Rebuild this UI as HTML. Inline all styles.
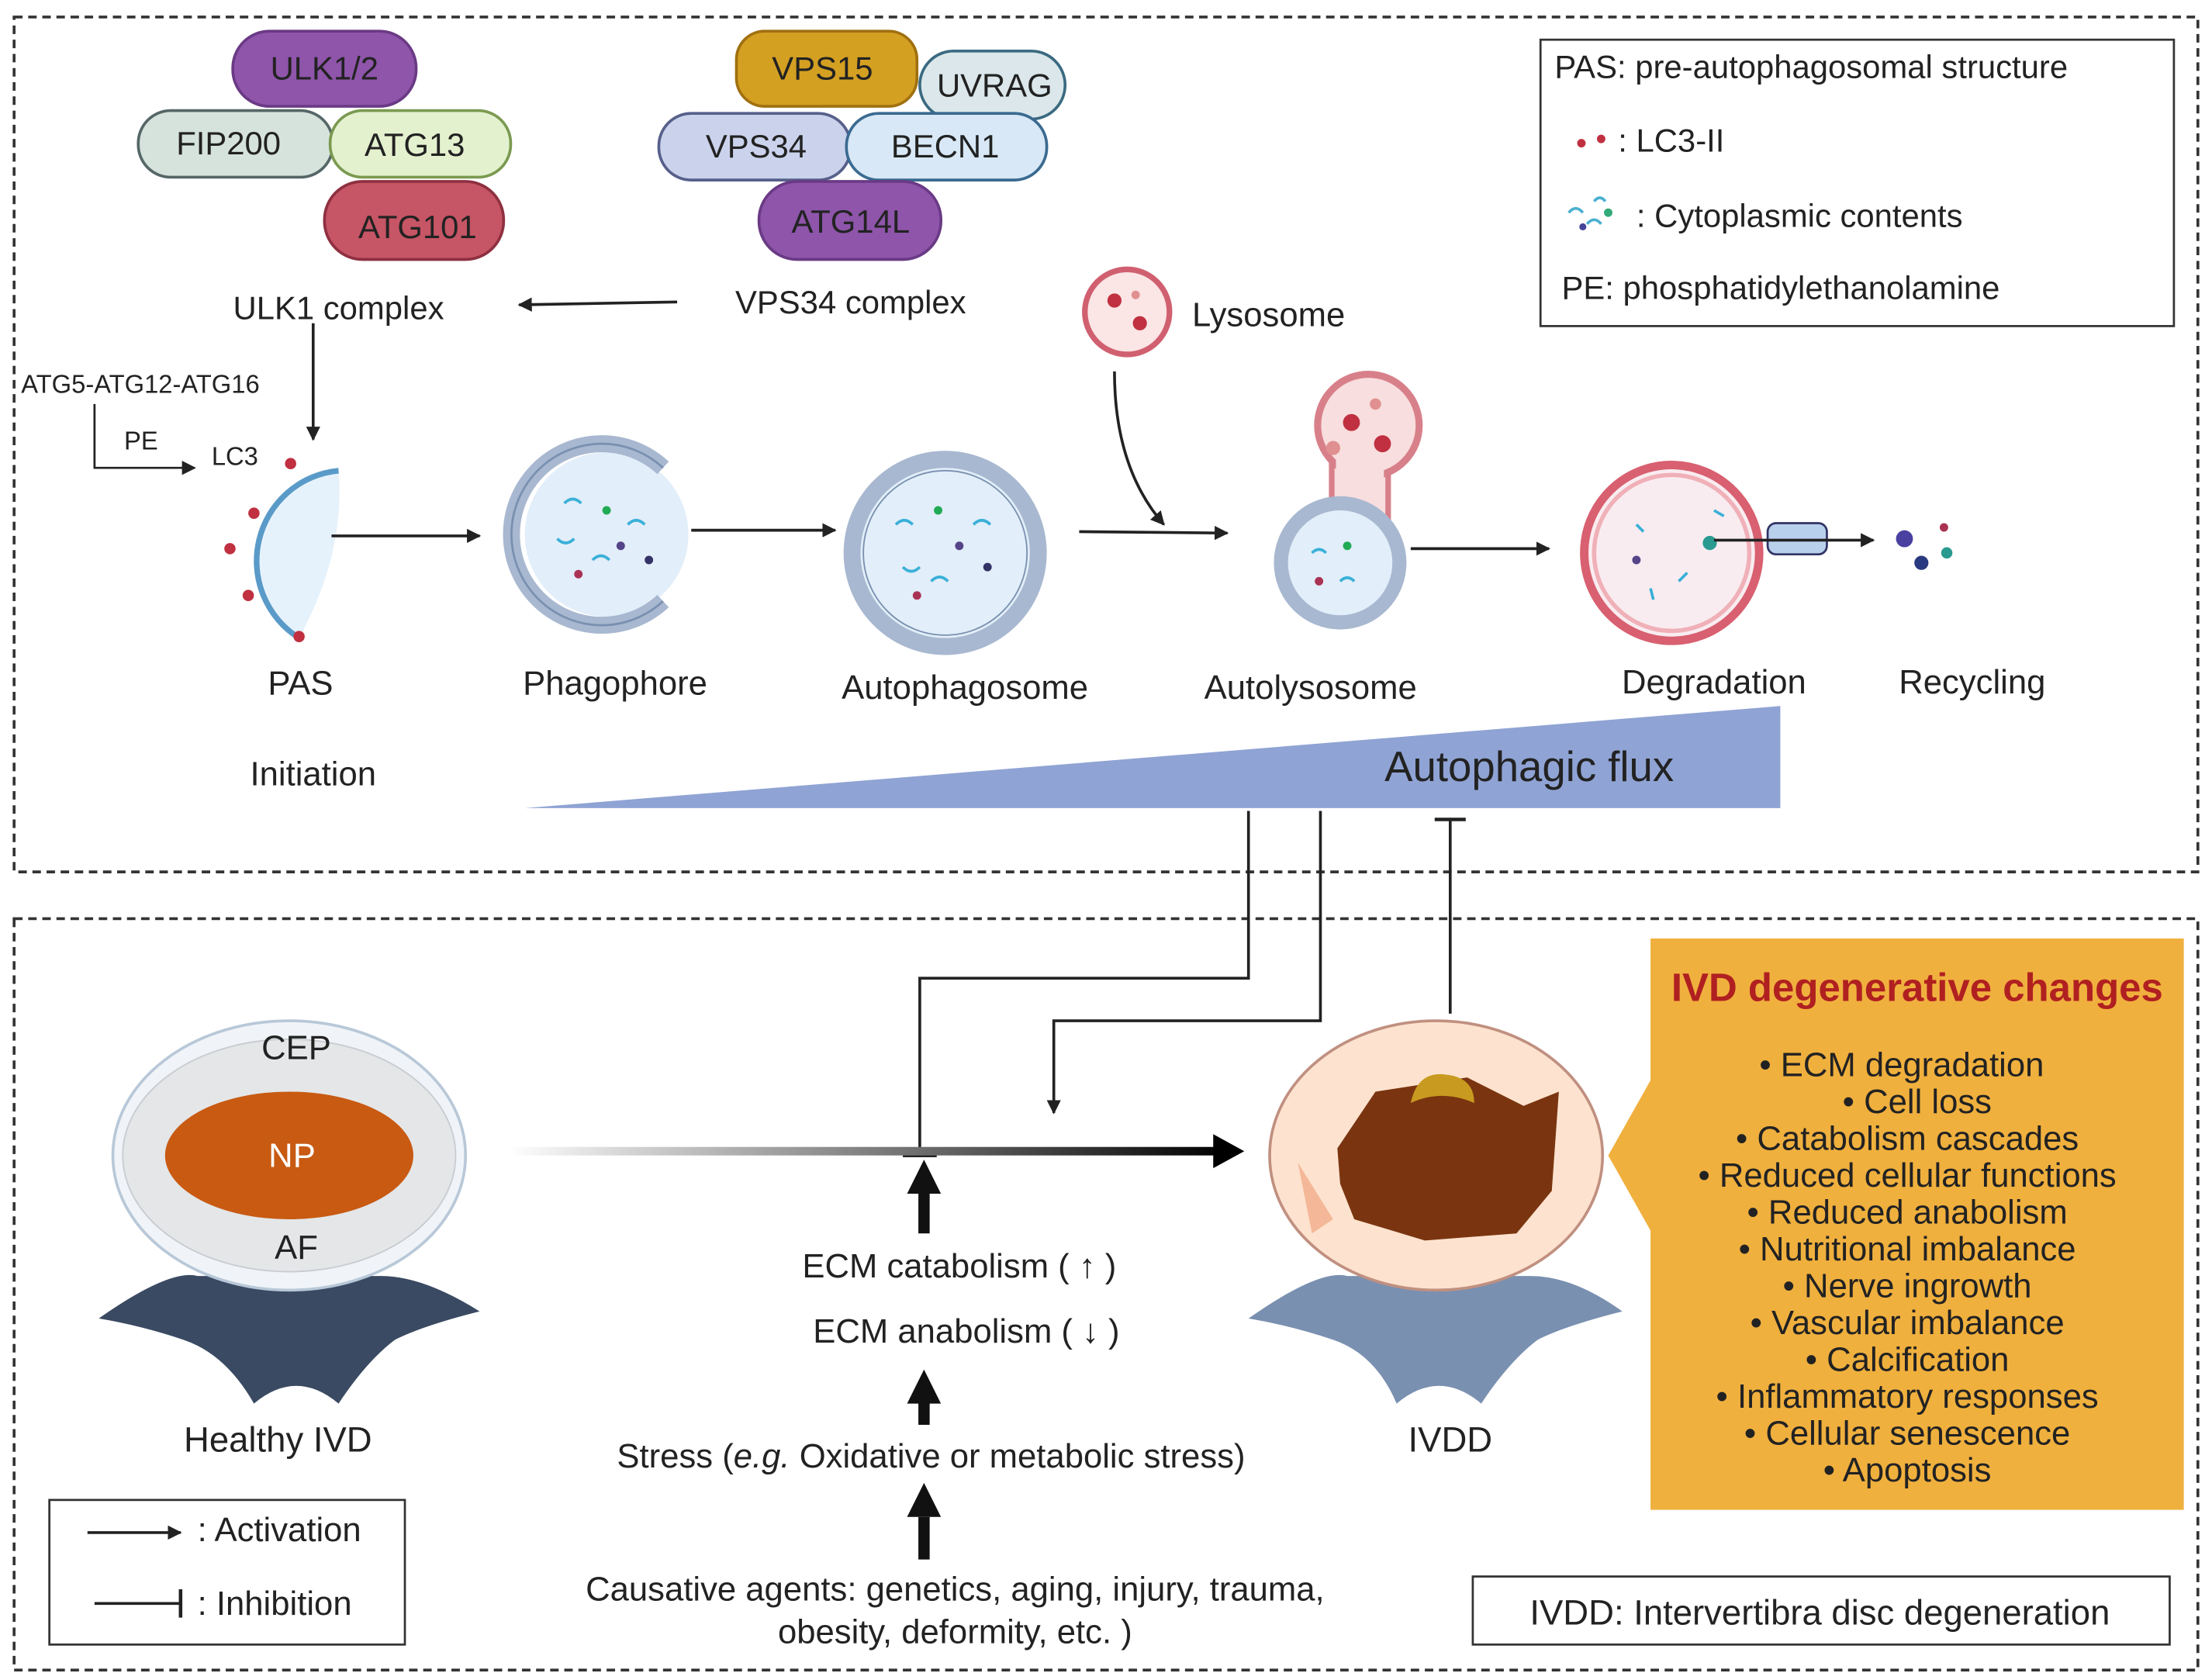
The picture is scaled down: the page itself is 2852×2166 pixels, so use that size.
<!DOCTYPE html>
<html><head><meta charset="utf-8"><style>
html,body{margin:0;padding:0;background:#fff}
svg{display:block}
text{font-family:"Liberation Sans",sans-serif;fill:#222}
</style></head><body>
<svg width="2852" height="2166" viewBox="0 0 1568 1185" preserveAspectRatio="none" xmlns="http://www.w3.org/2000/svg">
<defs>
<marker id="ar" markerWidth="10" markerHeight="10" refX="9" refY="5" orient="auto" markerUnits="userSpaceOnUse"><path d="M0,0 L10,5 L0,10 z" fill="#222"/></marker>
<linearGradient id="g1" gradientUnits="userSpaceOnUse" x1="360" y1="0" x2="870" y2="0"><stop offset="0" stop-color="#fff"/><stop offset="1" stop-color="#000"/></linearGradient>
</defs>
<rect x="10" y="12" width="1548" height="603" fill="none" stroke="#333" stroke-width="2" stroke-dasharray="6,4"/>
<rect x="10" y="648" width="1548" height="530" fill="none" stroke="#333" stroke-width="2" stroke-dasharray="6,4"/>
<!-- legend -->
<rect x="1092" y="28" width="449" height="202" fill="#fff" stroke="#333" stroke-width="1.5"/>
<text x="1102" y="55" font-size="23">PAS: pre-autophagosomal structure</text>
<circle cx="1121" cy="101" r="3" fill="#c03040"/><circle cx="1135" cy="98" r="3" fill="#c03040"/>
<text x="1147" y="107" font-size="23">: LC3-II</text>
<g stroke="#4ab0d0" stroke-width="2" fill="none"><path d="M1112,150 q5,-6 10,0"/><path d="M1125,158 q5,-6 10,0"/><path d="M1130,142 q4,-5 8,0"/></g>
<circle cx="1140" cy="150" r="3" fill="#3a7"/><circle cx="1122" cy="160" r="2.5" fill="#449"/>
<text x="1160" y="160" font-size="23">: Cytoplasmic contents</text>
<text x="1107" y="211" font-size="23">PE: phosphatidylethanolamine</text>
<!-- complexes -->
<g font-size="23" text-anchor="middle" stroke-width="2">
<rect x="165" y="22" width="130" height="53" rx="26" fill="#8e55aa" stroke="#6a3a85"/>
<text x="230" y="56" fill="#fff">ULK1/2</text>
<rect x="98" y="78" width="138" height="47" rx="23" fill="#d6e3dc" stroke="#566"/>
<text x="162" y="109">FIP200</text>
<rect x="234" y="78" width="128" height="47" rx="23" fill="#e4f1cf" stroke="#7a9a50"/>
<text x="294" y="110">ATG13</text>
<rect x="230" y="128" width="127" height="55" rx="27" fill="#c65565" stroke="#8e3040"/>
<text x="296" y="168" fill="#fff">ATG101</text>
<rect x="522" y="22" width="128" height="53" rx="20" fill="#d4a022" stroke="#a07010"/>
<text x="583" y="56" fill="#fff">VPS15</text>
<rect x="652" y="36" width="103" height="48" rx="24" fill="#dbe7ea" stroke="#3a6a80"/>
<text x="705" y="68">UVRAG</text>
<rect x="467" y="80" width="136" height="47" rx="23" fill="#cbd3ec" stroke="#56608a"/>
<text x="536" y="111">VPS34</text>
<rect x="600" y="80" width="142" height="47" rx="23" fill="#d8e8f6" stroke="#3a6a90"/>
<text x="670" y="111">BECN1</text>
<rect x="538" y="128" width="129" height="55" rx="27" fill="#8e55aa" stroke="#6a3a85"/>
<text x="603" y="164" fill="#fff">ATG14L</text>
<text x="240" y="225">ULK1 complex</text>
<text x="603" y="221">VPS34 complex</text>
</g>
<line x1="480" y1="213" x2="368" y2="215" stroke="#222" stroke-width="2" marker-end="url(#ar)"/>
<line x1="222" y1="228" x2="222" y2="310" stroke="#222" stroke-width="2" marker-end="url(#ar)"/>
<text x="15" y="277" font-size="18">ATG5-ATG12-ATG16</text>
<polyline points="67,285 67,330 138,330" fill="none" stroke="#222" stroke-width="1.5" marker-end="url(#ar)"/>
<text x="88" y="317" font-size="18">PE</text>
<text x="150" y="328" font-size="18">LC3</text>
<!-- PAS -->
<path d="M240,332 A64,64 0 0 0 212,450 Q245,390 240,332Z" fill="#e6f2fb"/>
<path d="M240,332 A64,64 0 0 0 212,450" fill="none" stroke="#5a9ac8" stroke-width="4"/>
<circle cx="206" cy="327" r="4" fill="#c03040"/><circle cx="180" cy="362" r="4" fill="#c03040"/><circle cx="163" cy="387" r="4" fill="#c03040"/><circle cx="176" cy="420" r="4" fill="#c03040"/><circle cx="212" cy="449" r="4" fill="#c03040"/>
<line x1="235" y1="378" x2="340" y2="378" stroke="#222" stroke-width="2" marker-end="url(#ar)"/>
<!-- phagophore -->
<circle cx="430" cy="377" r="58" fill="#e2eef9"/>
<path d="M470,330 A64,64 0 1 0 470,424" fill="none" stroke="#a8b8d0" stroke-width="12"/>
<path d="M470,330 A64,64 0 1 0 470,424" fill="none" stroke="#7a90b0" stroke-width="1.5"/>
<g fill="none" stroke="#3ab0d8" stroke-width="2"><path d="M400,355 q6,-6 12,0"/><path d="M420,395 q6,-6 12,0"/><path d="M445,370 q6,-6 12,0"/><path d="M395,380 q6,6 12,0"/></g>
<circle cx="430" cy="360" r="3" fill="#2a5"/><circle cx="460" cy="395" r="3" fill="#336"/><circle cx="410" cy="405" r="3" fill="#a35"/><circle cx="440" cy="385" r="3" fill="#548"/>
<line x1="490" y1="374" x2="592" y2="374" stroke="#222" stroke-width="2" marker-end="url(#ar)"/>
<!-- autophagosome -->
<circle cx="670" cy="390" r="66" fill="#e2eef9" stroke="#a8b8d0" stroke-width="12"/>
<circle cx="670" cy="390" r="58" fill="none" stroke="#7a90b0" stroke-width="1"/>
<g fill="none" stroke="#3ab0d8" stroke-width="2"><path d="M635,370 q6,-6 12,0"/><path d="M660,410 q6,-6 12,0"/><path d="M690,370 q6,-6 12,0"/><path d="M640,400 q6,6 12,0"/></g>
<circle cx="665" cy="360" r="3" fill="#2a5"/><circle cx="700" cy="400" r="3" fill="#336"/><circle cx="650" cy="420" r="3" fill="#a35"/><circle cx="680" cy="385" r="3" fill="#548"/>
<line x1="765" y1="375" x2="870" y2="376" stroke="#222" stroke-width="2" marker-end="url(#ar)"/>
<!-- lysosome -->
<circle cx="799" cy="220" r="30" fill="#fbe5e5" stroke="#d06070" stroke-width="4"/>
<circle cx="790" cy="212" r="5" fill="#c03040"/><circle cx="808" cy="228" r="5" fill="#c03040"/><circle cx="805" cy="208" r="3" fill="#e09090"/>
<text x="845" y="230" font-size="24">Lysosome</text>
<path d="M790,262 Q790,330 825,370" fill="none" stroke="#222" stroke-width="2" marker-end="url(#ar)"/>
<!-- autolysosome -->
<rect x="944" y="310" width="40" height="60" fill="#f8dede" stroke="#d8808a" stroke-width="4"/>
<circle cx="970" cy="300" r="36" fill="#f8dede" stroke="#d8808a" stroke-width="5"/>
<rect x="947" y="312" width="34" height="56" fill="#f8dede"/>
<circle cx="958" cy="298" r="6" fill="#c03040"/><circle cx="980" cy="313" r="6" fill="#c03040"/><circle cx="945" cy="316" r="5" fill="#e09090"/><circle cx="975" cy="285" r="4" fill="#e09090"/>
<circle cx="950" cy="397" r="42" fill="#e2eef9" stroke="#a8b8d0" stroke-width="10"/>
<g fill="none" stroke="#3ab0d8" stroke-width="2"><path d="M930,390 q5,-5 10,0"/><path d="M950,410 q5,-5 10,0"/></g>
<circle cx="955" cy="385" r="3" fill="#2a5"/><circle cx="935" cy="410" r="3" fill="#a35"/>
<line x1="1000" y1="387" x2="1098" y2="387" stroke="#222" stroke-width="2" marker-end="url(#ar)"/>
<!-- degradation -->
<circle cx="1185" cy="390" r="62" fill="#f9ecf0" stroke="#d86070" stroke-width="6"/>
<circle cx="1185" cy="390" r="55" fill="none" stroke="#f0b0b8" stroke-width="3"/>
<g stroke="#3ab0d8" stroke-width="2"><line x1="1160" y1="370" x2="1165" y2="375"/><line x1="1190" y1="410" x2="1196" y2="404"/><line x1="1215" y1="360" x2="1222" y2="364"/><line x1="1170" y1="415" x2="1172" y2="423"/></g>
<circle cx="1212" cy="383" r="5" fill="#2a9a90"/><circle cx="1160" cy="395" r="3" fill="#548"/>
<rect x="1253" y="369" width="42" height="22" rx="6" fill="#b8d0ec" stroke="#336" stroke-width="1.5"/>
<line x1="1215" y1="381" x2="1328" y2="381" stroke="#222" stroke-width="2" marker-end="url(#ar)"/>
<circle cx="1350" cy="380" r="6" fill="#4a40a0"/><circle cx="1362" cy="397" r="5" fill="#2a3a80"/><circle cx="1380" cy="390" r="4" fill="#2a9a90"/><circle cx="1378" cy="372" r="3" fill="#a35"/>
<g font-size="24" text-anchor="middle">
<text x="213" y="490">PAS</text><text x="436" y="490">Phagophore</text><text x="684" y="493">Autophagosome</text>
<text x="929" y="493">Autolysosome</text><text x="1215" y="489">Degradation</text><text x="1398" y="489">Recycling</text>
<text x="222" y="554">Initiation</text></g>
<polygon points="372,570 1262,570 1262,498" fill="#8fa3d4"/>
<text x="1084" y="551" font-size="30" text-anchor="middle">Autophagic flux</text>
<!-- connectors -->
<polyline points="885,572 885,690 652,690 652,815" fill="none" stroke="#222" stroke-width="2"/>
<line x1="640" y1="815" x2="664" y2="815" stroke="#222" stroke-width="2.5"/>
<polyline points="936,572 936,720 747,720 747,785" fill="none" stroke="#222" stroke-width="2" marker-end="url(#ar)"/>
<line x1="1028" y1="715" x2="1028" y2="578" stroke="#222" stroke-width="2"/>
<line x1="1017" y1="578" x2="1039" y2="578" stroke="#222" stroke-width="2.5"/>
<!-- main arrow -->
<rect x="360" y="809" width="505" height="6" fill="url(#g1)"/>
<polygon points="860,800 882,812 860,824" fill="#000"/>
<!-- healthy IVD -->
<path d="M70,930 Q120,895 140,900 L270,900 Q300,900 340,925 Q300,935 280,945 Q260,960 240,990 Q210,965 180,990 Q160,955 130,945 Q100,935 70,930Z" fill="#3a4a62"/>
<ellipse cx="205" cy="815" rx="125" ry="95" fill="#f0f4f8" stroke="#b8c8d8" stroke-width="2"/>
<ellipse cx="205" cy="815" rx="118" ry="82" fill="#e4e6e8" stroke="#c8ccd0"/>
<ellipse cx="205" cy="815" rx="88" ry="45" fill="#c85a12"/>
<text x="207" y="823" font-size="24" text-anchor="middle" style="fill:#fff">NP</text>
<text x="210" y="747" font-size="24" text-anchor="middle">CEP</text>
<text x="210" y="888" font-size="24" text-anchor="middle">AF</text>
<text x="197" y="1024" font-size="25" text-anchor="middle">Healthy IVD</text>
<!-- IVDD -->
<path d="M885,930 Q935,895 955,900 L1085,900 Q1115,900 1150,925 Q1110,935 1090,945 Q1070,960 1050,990 Q1020,965 990,990 Q975,955 945,945 Q915,935 885,930Z" fill="#7a90b0"/>
<ellipse cx="1018" cy="815" rx="118" ry="95" fill="#fde3cf" stroke="#c09080" stroke-width="2"/>
<polygon points="948,810 975,770 1040,760 1080,780 1105,770 1100,840 1075,870 1010,875 960,860 950,835" fill="#7a3510"/>
<polygon points="920,820 945,860 930,870" fill="#f4b898"/>
<path d="M1000,778 Q1005,755 1025,758 Q1045,760 1045,778 Q1022,768 1000,778Z" fill="#c89a20"/>
<text x="1028" y="1024" font-size="25" text-anchor="middle">IVDD</text>
<!-- middle arrows -->
<g fill="#111"><rect x="651" y="840" width="8" height="30"/><polygon points="643,842 655,818 667,842"/>
<rect x="651" y="985" width="8" height="20"/><polygon points="643,990 655,966 667,990"/>
<rect x="651" y="1070" width="8" height="30"/><polygon points="643,1070 655,1046 667,1070"/></g>
<g font-size="24" text-anchor="middle">
<text x="680" y="901">ECM catabolism ( ↑ )</text>
<text x="685" y="947">ECM anabolism ( ↓ )</text>
<text x="660" y="1035">Stress (<tspan font-style="italic">e.g.</tspan> Oxidative or metabolic stress)</text>
<text x="677" y="1129">Causative agents: genetics, aging, injury, trauma,</text>
<text x="677" y="1159">obesity, deformity, etc. )</text></g>
<!-- orange box -->
<polygon points="1170,662 1548,662 1548,1065 1170,1065 1170,868 1140,815 1170,762" fill="#f0b03e"/>
<text x="1359" y="706" font-size="28" font-weight="bold" text-anchor="middle" style="fill:#b02020">IVD degenerative changes</text>
<g font-size="24" text-anchor="middle" style="fill:#111">
<text x="1348" y="759">• ECM degradation</text><text x="1359" y="785">• Cell loss</text><text x="1352" y="811">• Catabolism cascades</text>
<text x="1352" y="837">• Reduced cellular functions</text><text x="1352" y="863">• Reduced anabolism</text><text x="1352" y="889">• Nutritional imbalance</text>
<text x="1352" y="915">• Nerve ingrowth</text><text x="1352" y="941">• Vascular imbalance</text><text x="1352" y="967">• Calcification</text>
<text x="1352" y="993">• Inflammatory responses</text><text x="1352" y="1019">• Cellular senescence</text><text x="1352" y="1045">• Apoptosis</text></g>
<!-- legends bottom -->
<rect x="35" y="1058" width="252" height="102" fill="#fff" stroke="#333" stroke-width="1.5"/>
<line x1="62" y1="1081" x2="128" y2="1081" stroke="#222" stroke-width="2" marker-end="url(#ar)"/>
<text x="140" y="1087" font-size="24">: Activation</text>
<line x1="67" y1="1131" x2="128" y2="1131" stroke="#222" stroke-width="2"/><line x1="128" y1="1121" x2="128" y2="1141" stroke="#222" stroke-width="2.5"/>
<text x="140" y="1139" font-size="24">: Inhibition</text>
<rect x="1044" y="1112" width="494" height="48" fill="#fff" stroke="#333" stroke-width="1.5"/>
<text x="1290" y="1146" font-size="25" text-anchor="middle">IVDD: Intervertibra disc degeneration</text>
</svg>
</body></html>
